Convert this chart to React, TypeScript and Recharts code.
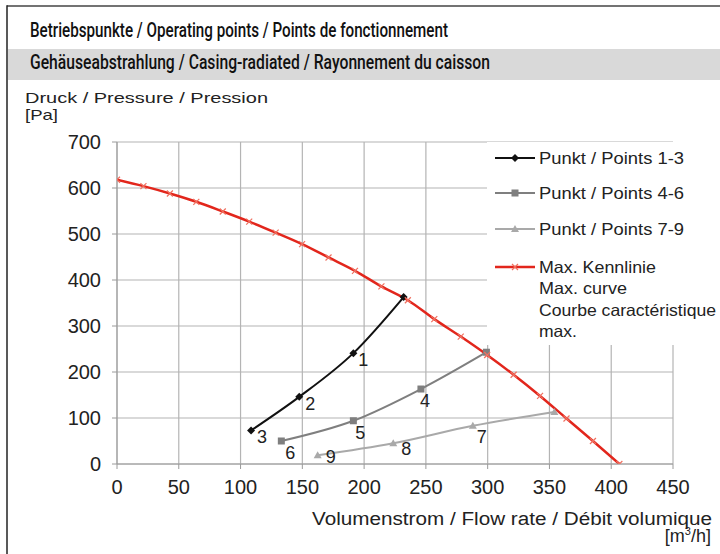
import React from 'react';
import { LineChart, Line, XAxis, YAxis, CartesianGrid, Legend, LabelList } from 'recharts';

// Max. Kennlinie (red)
const maxFlow = [0, 21.4, 42.8, 64.2, 85.6, 107, 128.4, 149.8, 171.2, 192.6, 214, 235.4, 256.8, 278.2, 299.6, 321, 342.4, 363.8, 385.2, 406.6];
const maxPressure = [618, 604, 588, 570, 549, 527, 503, 478, 449, 420, 386, 356, 315, 277, 237, 194, 148, 99, 50, 0];

// Punkt / Points 1-3
const flow13 = [108.5, 147.5, 191.3, 232];
const pressure13 = [73, 146, 241, 363];
const labels13 = ['3', '2', '1', ''];

// Punkt / Points 4-6
const flow46 = [133, 191.3, 246, 299];
const pressure46 = [50, 94, 163, 243];
const labels46 = ['6', '5', '4', ''];

// Punkt / Points 7-9
const flow79 = [162.4, 223.6, 288, 354];
const pressure79 = [19, 45, 83, 113];
const labels79 = ['9', '8', '7', ''];

const xTicks = [0, 50, 100, 150, 200, 250, 300, 350, 400, 450];
const yTicks = [0, 100, 200, 300, 400, 500, 600, 700];

const seriesNames = [
  'Punkt / Points 1-3',
  'Punkt / Points 4-6',
  'Punkt / Points 7-9',
  'Max. Kennlinie\nMax. curve\nCourbe caractéristique\nmax.',
];

const toRows = (xs: number[], ys: number[], labels?: string[]) =>
  xs.map((x, i) => ({ x, y: ys[i], label: labels ? labels[i] : '' }));

const rows13 = toRows(flow13, pressure13, labels13);
const rows46 = toRows(flow46, pressure46, labels46);
const rows79 = toRows(flow79, pressure79, labels79);
const rowsMax = toRows(maxFlow, maxPressure);

const FONT = '"Liberation Sans", Arial, sans-serif';
const BLACK = '#111111';
const GRAY = '#7f7f7f';
const LIGHT = '#a9a9a9';
const RED = '#e2261c';
const GRID = '#b4b4b4';

// label nudges (px) relative to the point
const labelNudge: Record<string, [number, number]> = {
  '1': [10, 7], '2': [11, 7], '3': [11, 7],
  '4': [4, 12], '5': [7, 12], '6': [9, 12],
  '7': [9, 11], '8': [13, 6], '9': [13, 2],
};

type Shape = 'diamond' | 'square' | 'triangle' | 'cross';

function marker(shape: Shape, cx: number, cy: number, color: string, key?: string) {
  if (shape === 'diamond') {
    return <path key={key} d={`M${cx} ${cy - 4}L${cx + 4} ${cy}L${cx} ${cy + 4}L${cx - 4} ${cy}Z`} fill={color} />;
  }
  if (shape === 'square') {
    return <rect key={key} x={cx - 3.5} y={cy - 3.5} width={7} height={7} fill={color} />;
  }
  if (shape === 'triangle') {
    return <path key={key} d={`M${cx} ${cy - 4}L${cx + 4} ${cy + 3}L${cx - 4} ${cy + 3}Z`} fill={color} />;
  }
  return (
    <path key={key} d={`M${cx - 3} ${cy - 3}L${cx + 3} ${cy + 3}M${cx - 3} ${cy + 3}L${cx + 3} ${cy - 3}`}
      stroke="#f07060" strokeWidth={1.2} fill="none" />
  );
}

const dotOf = (shape: Shape, color: string) => (p: any) => {
  if (p.cx == null || p.cy == null) return <g key={`e${p.index}`} />;
  return marker(shape, p.cx, p.cy, color, `${shape}-${p.index}`);
};

const renderPointLabel = (p: any) => {
  const v = p.value;
  if (!v) return null;
  const [dx, dy] = labelNudge[v] || [10, 8];
  return (
    <text x={p.x + dx} y={p.y + dy} textAnchor="middle" dominantBaseline="central"
      fontSize={18} fontFamily={FONT} fill="#222">{v}</text>
  );
};

const legendShapes: Shape[] = ['diamond', 'square', 'triangle', 'cross'];
const legendRowY = [16, 51, 87, 125];
const legendWidths = [[145], [145], [145], [117, 88, 177, 38]];

const renderLegend = (props: any) => {
  const items = [...(props.payload || [])].sort(
    (a: any, b: any) => seriesNames.indexOf(String(a.value)) - seriesNames.indexOf(String(b.value))
  );
  return (
    <svg width={233} height={203} style={{ display: 'block' }}>
      {items.map((item: any) => {
        const i = seriesNames.indexOf(String(item.value));
        const y = legendRowY[i];
        const lines = String(item.value).split('\n');
        return (
          <g key={i}>
            <line x1={8} x2={48} y1={y} y2={y} stroke={item.color} strokeWidth={i === 3 ? 2.5 : 2} />
            {marker(legendShapes[i], 28, y, item.color)}
            {lines.map((t, j) => (
              <text key={j} x={52} y={y + 6 + j * 21.3} fontSize={16.5} fontFamily={FONT} fill="#222"
                textLength={legendWidths[i][j]} lengthAdjust="spacingAndGlyphs">{t}</text>
            ))}
          </g>
        );
      })}
    </svg>
  );
};

const tickStyle = { fontSize: 20, fill: '#222', fontFamily: FONT };

export default function App() {
  return (
    <div style={{ position: 'absolute', left: 0, top: 0, width: 720, height: 554, background: '#fff', overflow: 'hidden' }}>
      <svg width={720} height={554} style={{ position: 'absolute', left: 0, top: 0 }}>
        <rect x={8} y={49} width={712} height={31} fill="#d9d9d9" />
        <line x1={7} y1={6} x2={720} y2={6} stroke="#444" strokeWidth={1.5} />
        <line x1={7} y1={5.25} x2={7} y2={554} stroke="#222" strokeWidth={1.5} />
        <text x={30} y={36.5} fontSize={20} fontWeight={500} fontFamily="Roboto, sans-serif" fill="#111"
          textLength={418} lengthAdjust="spacingAndGlyphs">Betriebspunkte / Operating points / Points de fonctionnement</text>
        <text x={30} y={68.5} fontSize={20} fontWeight={500} fontFamily="Roboto, sans-serif" fill="#111"
          textLength={460} lengthAdjust="spacingAndGlyphs">Gehäuseabstrahlung / Casing-radiated / Rayonnement du caisson</text>
        <text x={25} y={102.5} fontSize={15} fontFamily={FONT} fill="#222"
          textLength={243} lengthAdjust="spacingAndGlyphs">Druck / Pressure / Pression</text>
        <text x={25} y={119.5} fontSize={15} fontFamily={FONT} fill="#222"
          textLength={33} lengthAdjust="spacingAndGlyphs">[Pa]</text>
        <text x={312} y={525} fontSize={18} fontFamily={FONT} fill="#222"
          textLength={400} lengthAdjust="spacingAndGlyphs">Volumenstrom / Flow rate / Débit volumique</text>
        <text x={711} y={541.5} textAnchor="end" fontSize={18} fontFamily={FONT} fill="#222">
          [m<tspan dy={-7} fontSize={11}>3</tspan><tspan dy={7}>/h]</tspan>
        </text>
      </svg>
      <div style={{ position: 'absolute', left: 0, top: 0 }}>
        <LineChart width={720} height={554} margin={{ top: 142, right: 47, bottom: 60, left: 0 }}>
          <CartesianGrid stroke={GRID} strokeWidth={1.2} />
          <XAxis type="number" dataKey="x" domain={[0, 450]} ticks={xTicks} interval={0} height={30}
            stroke="#9a9a9a" tickSize={5} tickMargin={11} tick={tickStyle} allowDataOverflow />
          <YAxis type="number" dataKey="y" domain={[0, 700]} ticks={yTicks} interval={0} width={117}
            stroke="#9a9a9a" tickSize={5} tickMargin={11} tick={tickStyle} allowDataOverflow />
          <Legend layout="horizontal" align="center" verticalAlign="middle" width={233} height={203}
            content={renderLegend}
            wrapperStyle={{ left: 487, top: 142, width: 233, height: 203, background: '#fff', margin: 0, padding: 0 }} />
          <Line data={rows13} dataKey="y" name={seriesNames[0]} type="monotone" stroke={BLACK} strokeWidth={2}
            dot={dotOf('diamond', BLACK)} activeDot={false} isAnimationActive={false}>
            <LabelList dataKey="label" content={renderPointLabel} />
          </Line>
          <Line data={rows46} dataKey="y" name={seriesNames[1]} type="monotone" stroke={GRAY} strokeWidth={2}
            dot={dotOf('square', GRAY)} activeDot={false} isAnimationActive={false}>
            <LabelList dataKey="label" content={renderPointLabel} />
          </Line>
          <Line data={rows79} dataKey="y" name={seriesNames[2]} type="monotone" stroke={LIGHT} strokeWidth={2}
            dot={dotOf('triangle', LIGHT)} activeDot={false} isAnimationActive={false}>
            <LabelList dataKey="label" content={renderPointLabel} />
          </Line>
          <Line data={rowsMax} dataKey="y" name={seriesNames[3]} type="monotone" stroke={RED} strokeWidth={2.5}
            dot={dotOf('cross', RED)} activeDot={false} isAnimationActive={false} />
        </LineChart>
      </div>
    </div>
  );
}
